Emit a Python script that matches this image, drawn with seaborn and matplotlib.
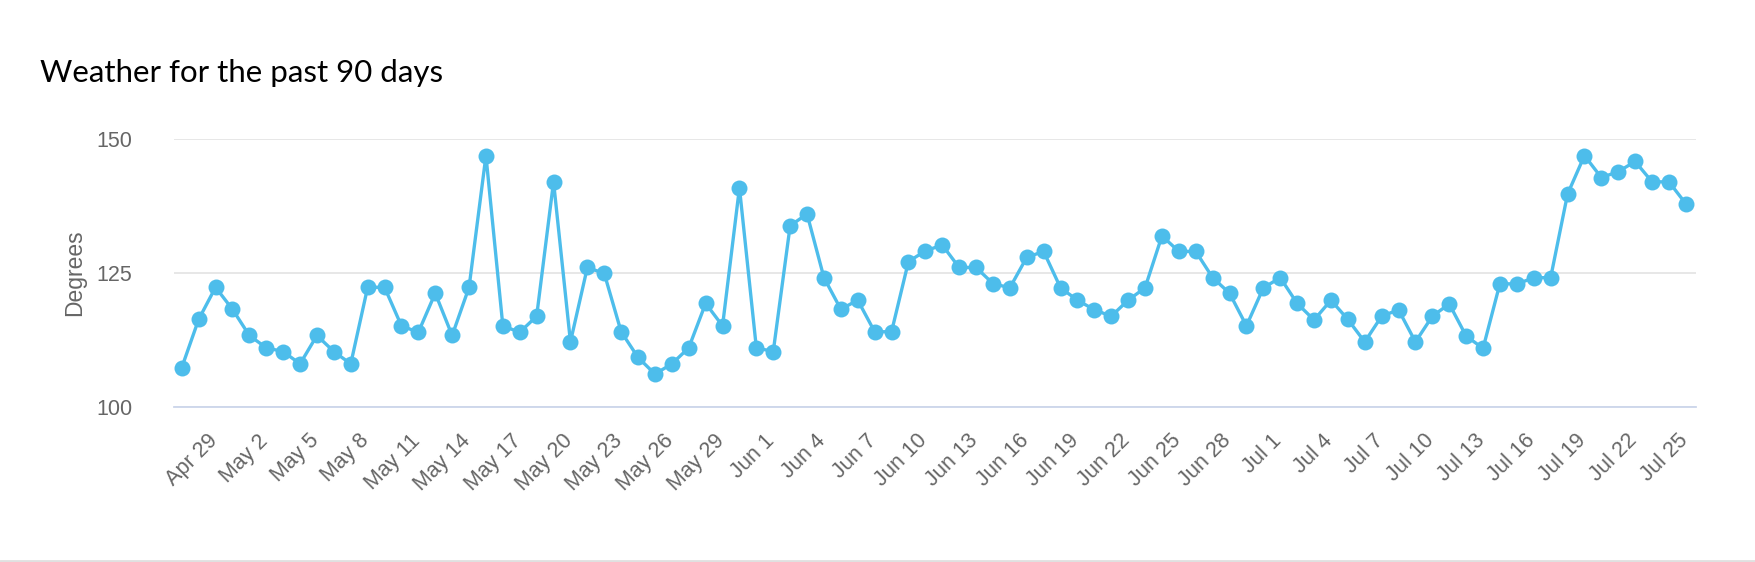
import pandas as pd
import matplotlib
matplotlib.use("Agg")
import matplotlib.pyplot as plt
import matplotlib.dates as mdates
import matplotlib.transforms as mtransforms
import seaborn as sns

# dados (90 dias)
dias = pd.date_range("2024-04-27", "2024-07-25", freq="D")
graus = [
    107.3, 116.3, 122.3, 118.2, 113.3, 111.0, 110.3, 108.0, 113.3, 110.3,
    108.0, 122.3, 122.3, 115.1, 113.9, 121.2, 113.3, 122.3, 146.9, 115.1,
    113.9, 116.9, 142.0, 112.1, 126.0, 124.9, 114.0, 109.2, 106.1, 108.0,
    111.0, 119.3, 115.1, 140.9, 111.0, 110.3, 133.8, 136.0, 124.1, 118.2,
    119.9, 114.0, 114.0, 127.1, 129.1, 130.2, 126.0, 126.0, 123.0, 122.2,
    127.9, 129.0, 122.2, 119.9, 118.1, 116.9, 119.9, 122.2, 131.9, 129.0,
    129.0, 124.1, 121.2, 115.1, 122.2, 124.1, 119.3, 116.2, 119.9, 116.3,
    112.1, 116.9, 118.1, 112.1, 116.9, 119.2, 113.2, 110.9, 123.0, 122.9,
    124.1, 124.1, 139.7, 146.9, 142.8, 143.9, 145.8, 142.0, 142.0, 137.9,
]
y_ticks = [100, 125, 150]

df = pd.DataFrame({"dia": dias, "graus": graus})

sns.set_style("white")
plt.rcParams["font.family"] = ["Liberation Sans", "DejaVu Sans"]

fig = plt.figure(figsize=(17.56, 5.62), dpi=100)
ax = fig.add_axes([174 / 1756, 1 - 406.7 / 562, (1695.7 - 174) / 1756, (406.7 - 139) / 562])

sns.lineplot(
    data=df, x="dia", y="graus", ax=ax,
    color="#4dbdeb", linewidth=2.4,
    marker="o", markersize=11.5, markeredgewidth=0,
    clip_on=False, zorder=3,
)

ax.set_ylim(100, 150)
ax.set_yticks(y_ticks)
ax.set_xlim(dias[0] - pd.Timedelta(hours=11), dias[-1] + pd.Timedelta(hours=14))

ax.grid(axis="y", color="#e3e3e3", linewidth=1.2)
ax.grid(axis="x", visible=False)
for lado in ["top", "right", "left"]:
    ax.spines[lado].set_visible(False)
ax.spines["bottom"].set_color("#ccd6eb")
ax.spines["bottom"].set_linewidth(1.3)

ax.set_xticks(dias[2::3])
ax.xaxis.set_major_formatter(mdates.DateFormatter("%b %-d"))
ax.tick_params(axis="x", length=0, pad=17, labelsize=15.5, labelcolor="#666666")
ax.tick_params(axis="y", length=0, pad=30, labelsize=15.5, labelcolor="#666666")

desloc = mtransforms.ScaledTranslation(6 / 100, 0, fig.dpi_scale_trans)
for rotulo in ax.get_xticklabels():
    rotulo.set_rotation(45)
    rotulo.set_ha("right")
    rotulo.set_va("top")
    rotulo.set_transform(rotulo.get_transform() + desloc)

ax.set_xlabel("")
ax.set_ylabel("Degrees", fontsize=16.5, color="#666666", labelpad=7)

fig.text(40 / 1756, 1 - 81.7 / 562, "Weather for the past 90 days",
         fontsize=22.5, family="Lato", color="#000000", va="baseline")

# linha cinza no rodape
fig.add_artist(plt.Line2D([0, 1], [1.5 / 562, 1.5 / 562], color="#e0e0e0", linewidth=2))

fig.savefig("out.png", dpi=100, facecolor="white")
